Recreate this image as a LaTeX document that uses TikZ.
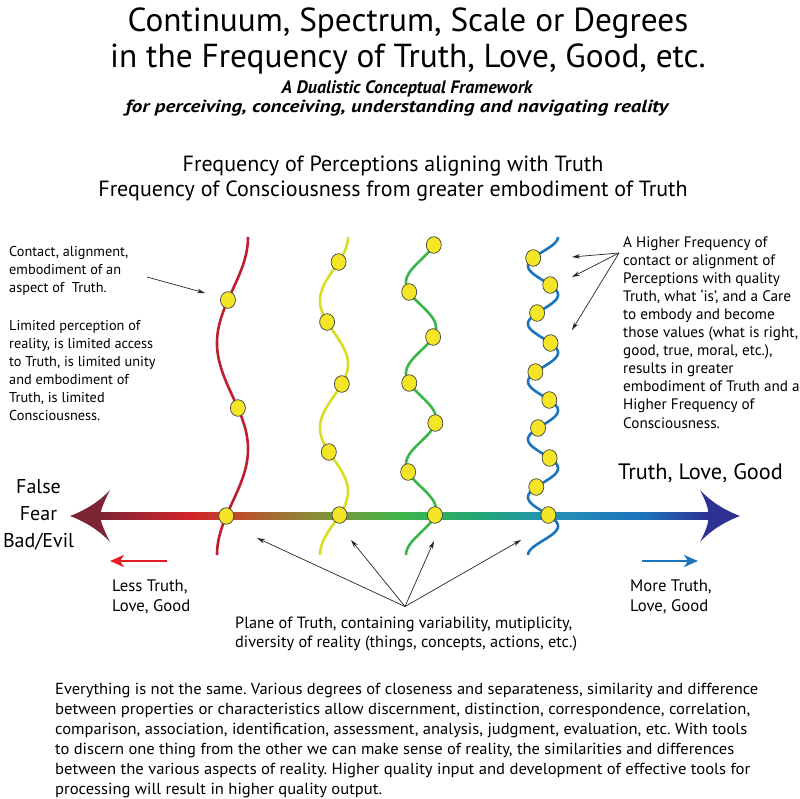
\documentclass[tikz,border=0pt]{standalone}
\usepackage{fontspec}
\setmainfont{PT Sans}
\usetikzlibrary{arrows.meta}
\definecolor{redc}{HTML}{BE1E2D}
\definecolor{yelc}{HTML}{D7DF23}
\definecolor{grnc}{HTML}{39B54A}
\definecolor{bluc}{HTML}{1C75BC}
\definecolor{dotc}{HTML}{F4E526}
\definecolor{headL}{HTML}{7B2434}
\definecolor{headR}{HTML}{2E3192}
\definecolor{smallred}{HTML}{E31E25}
\definecolor{axA}{HTML}{7D2535}
\definecolor{axB}{HTML}{D2232A}
\definecolor{axC}{HTML}{B5562E}
\definecolor{axD}{HTML}{8C8C38}
\definecolor{axE}{HTML}{3FB54A}
\definecolor{axF}{HTML}{20A57A}
\definecolor{axG}{HTML}{2590B8}
\definecolor{axH}{HTML}{1C72BB}
\definecolor{axI}{HTML}{2E3192}
\pgfdeclarehorizontalshading{axisshade}{100bp}{color(0bp)=(axA); color(25bp)=(axA); color(32.4bp)=(axB); color(37.2bp)=(axC); color(42.4bp)=(axD); color(49.7bp)=(axE); color(56.7bp)=(axF); color(62.2bp)=(axG); color(69.7bp)=(axH); color(75bp)=(axI); color(100bp)=(axI)}
\newcommand{\fitln}[2]{\resizebox{#1}{\height}{#2}}
\tikzset{
  dot/.style={fill=dotc, draw=black!75, line width=0.7pt},
  wave/.style={line width=2.6pt},
  ann/.style={draw=black!85, line width=0.7pt, -{Stealth[length=8pt,width=4.5pt]}},
  dirarrow/.style={line width=2.4pt, -{Stealth[length=14pt,width=12pt,inset=4pt]}},
  txt/.style={align=left, inner sep=0pt, anchor=base west},
  ctxt/.style={align=center, inner sep=0pt, anchor=base},
}
\begin{document}
\frenchspacing
\begin{tikzpicture}[x=1pt,y=-1pt]
\useasboundingbox (0,0) rectangle (800,799);
\fill[white] (0,0) rectangle (800,799);

% titles
\node[ctxt, font=\fontsize{33.3}{36}\selectfont] (t1) at (408,32) {Continuum, Spectrum, Scale or Degrees};
\node[ctxt, font=\fontsize{33.3}{36}\selectfont] (t2) at (408,68) {in the Frequency of Truth, Love, Good, etc.};
\node[ctxt, font=\fontsize{18}{20}\bfseries\itshape\selectfont] (s1) at (407,93.3) {A Dualistic Conceptual Framework};
\node[ctxt, font=\fontsize{17.5}{20}\bfseries\itshape\selectfont] (s2) at (397,112.7) {\scalebox{1.2}[1]{for perceiving, conceiving, understanding and navigating reality}};
\node[ctxt, font=\fontsize{22}{24}\selectfont] (f1) at (393,171.7) {Frequency of Perceptions aligning with Truth};
\node[ctxt, font=\fontsize{22}{24}\selectfont] (f2) at (393,196.7) {Frequency of Consciousness from greater embodiment of Truth};

% axis
\shade[shading=axisshade] (100,512.5) rectangle (708,519.5);

% waves
\draw[wave, redc] plot[domain=237:555, samples=200, variable=\t] ({232.5+15.5*cos(1.69811*(\t-237))}, \t);
\draw[wave, yelc] plot[domain=237:555, samples=200, variable=\t] ({334+14*cos(2.83019*(\t-237))}, \t);
\draw[wave, grnc] plot[domain=237:555, samples=250, variable=\t] ({421+15*cos(3.96214*(\t-237))}, \t);
\draw[wave, bluc] plot[domain=237:555, samples=300, variable=\t] ({543+15*cos(6.22622*(\t-237))}, \t);

% dots
\foreach \t in {300,408,516}
  \path[dot] ({232.5+15.5*cos(1.69811*(\t-237))}, \t) ellipse [x radius=7.5pt, y radius=8.3pt];
\foreach \t in {262,322,384,452,515}
  \path[dot] ({334+14*cos(2.83019*(\t-237))}, \t) ellipse [x radius=7.5pt, y radius=8.3pt];
\foreach \t in {245,292,337,383,423,472,515}
  \path[dot] ({421+15*cos(3.96214*(\t-237))}, \t) ellipse [x radius=7.5pt, y radius=8.3pt];
\foreach \t in {258,285,313,343,372,400,428,458,487,515}
  \path[dot] ({543+15*cos(6.22622*(\t-237))}, \t) ellipse [x radius=7.5pt, y radius=8.3pt];

% axis heads
\fill[headL] (70,516) .. controls (86,510) and (100,501) .. (110,490)
  .. controls (104,502) and (101,509) .. (100,516)
  .. controls (101,523) and (104,530) .. (110,542)
  .. controls (100,531) and (86,522) .. (70,516) -- cycle;
\fill[headR] (740,516) .. controls (724,510) and (710,501) .. (700,490)
  .. controls (706,502) and (709,509) .. (708,516)
  .. controls (709,523) and (706,530) .. (700,542)
  .. controls (710,531) and (724,522) .. (740,516) -- cycle;

% axis labels
\node[ctxt, font=\fontsize{20}{27.2}\selectfont] (fal) at (38.5,547.7) {False\\Fear\\Bad/Evil};
\node[txt, font=\fontsize{22.3}{26}\selectfont] (tlg) at (618,479.5) {Truth, Love, Good};

% small direction arrows
\coordinate (lr1) at (167,561); \coordinate (lr2) at (110,561);
\draw[smallred, dirarrow] (lr1) -- (lr2);
\coordinate (rb1) at (642,561); \coordinate (rb2) at (698,561);
\draw[bluc, dirarrow] (rb1) -- (rb2);
\node[txt, font=\fontsize{16.7}{20}\selectfont] (less) at (112,611.5) {Less Truth,\\Love, Good};
\node[txt, font=\fontsize{16.7}{20}\selectfont] (more) at (630,611.5) {More Truth,\\Love, Good};

% left text
\node[txt, font=\fontsize{14.3}{17.95}\selectfont] (lt) at (9,420) {Contact, alignment,\\embodiment of an\\aspect of\ \ Truth.\\[19.5pt]Limited perception of\\reality, is limited access\\to Truth, is limited unity\\and embodiment of\\Truth, is limited\\Consciousness.};
\coordinate (la1) at (147,277); \coordinate (la2) at (205,293);
\draw[ann] (la1) -- (la2);

% right text
\node[txt, font=\fontsize{15.2}{18.1}\selectfont] (rt) at (623,428) {A Higher Frequency of\\contact or alignment of\\Perceptions with quality\\Truth, what ‘is’, and a Care\\to embody and become\\those values (what is right,\\good, true, moral, etc.),\\results in greater\\embodiment of Truth and a\\Higher Frequency of\\Consciousness.};
\coordinate (ro) at (619,253);
\coordinate (rt1) at (572,257); \coordinate (rt2) at (572,277); \coordinate (rt3) at (572,330);
\draw[ann] (ro) -- (rt1);
\draw[ann] (ro) -- (rt2);
\draw[ann] (ro) -- (rt3);

% plane text
\node[txt, font=\fontsize{16.3}{19}\selectfont] (pl) at (235,647) {Plane of Truth, containing variability, mutiplicity,\\diversity of reality (things, concepts, actions, etc.)};
\coordinate (po) at (405,606.5);
\coordinate (p1) at (257,538); \coordinate (p2) at (351,540); \coordinate (p3) at (434,541); \coordinate (p4) at (521,540);
\draw[ann] (po) -- (p1);
\draw[ann] (po) -- (p2);
\draw[ann] (po) -- (p3);
\draw[ann] (po) -- (p4);

% bottom paragraph
\node[txt, font=\fontsize{16}{20}\selectfont] (para) at (55,794) {\fitln{703pt}{Everything is not the same. Various degrees of closeness and separateness, similarity and difference}\\\fitln{695pt}{between properties or characteristics allow discernment, distinction, correspondence, correlation,}\\\fitln{692pt}{comparison, association, identification, assessment, analysis, judgment, evaluation, etc. With tools}\\\fitln{679pt}{to discern one thing from the other we can make sense of reality, the similarities and differences}\\\fitln{695pt}{between the various aspects of reality. Higher quality input and development of effective tools for}\\\fitln{327pt}{processing will result in higher quality output.}};
\end{tikzpicture}
\end{document}
